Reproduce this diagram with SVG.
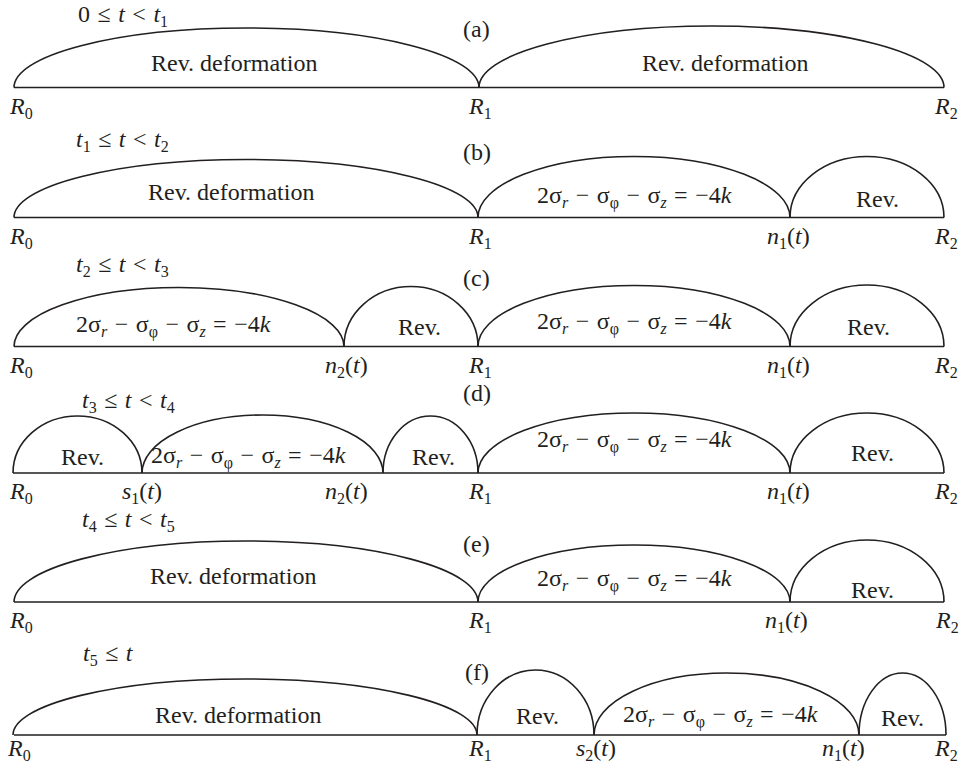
<svg xmlns="http://www.w3.org/2000/svg" width="965" height="769" viewBox="0 0 965 769">
<style>
.ln{fill:none;stroke:#231f20;stroke-width:1.6}
.t{font-family:"Liberation Serif","Times New Roman",serif;font-size:24px;fill:#231f20}
.i{font-style:italic}
.s{font-size:16px}
.tm{word-spacing:1.5px}
.f{word-spacing:1.5px}
</style>
<rect width="965" height="769" fill="#fff"/>
<g id="axes">
<path class="ln" d="M14 87.5H944M14 217.5H944M14 346.5H944M13 473H944M14 602H944M14 735H946"/>
</g>
<g id="row-a">
<text class="t tm" x="78" y="22">0 ≤ <tspan class="i">t</tspan> &lt; <tspan class="i">t</tspan><tspan class="s" dy="5">1</tspan></text>
<text class="t" x="463" y="37">(a)</text>
<g id="a-left"><path class="ln" d="M14 87.5A232.5 59.5 0 0 1 479 87.5"/><text class="t" x="151" y="71">Rev. deformation</text></g>
<g id="a-right"><path class="ln" d="M479 87.5A232.5 61.5 0 0 1 944 87.5"/><text class="t" x="642" y="71">Rev. deformation</text></g>
<text class="t" y="114"><tspan class="i" x="10">R</tspan><tspan class="s" dy="5">0</tspan><tspan class="i" x="469" dy="-5">R</tspan><tspan class="s" dy="5">1</tspan><tspan class="i" x="935" dy="-5">R</tspan><tspan class="s" dy="5">2</tspan></text>
</g>
<g id="row-b">
<text class="t tm" x="76" y="147"><tspan class="i">t</tspan><tspan class="s" dy="5">1</tspan><tspan dy="-5"> ≤ </tspan><tspan class="i">t</tspan> &lt; <tspan class="i">t</tspan><tspan class="s" dy="5">2</tspan></text>
<text class="t" x="463" y="160">(b)</text>
<g id="b-left"><path class="ln" d="M14 217.5A232 58 0 0 1 478 217.5"/><text class="t" x="148" y="200">Rev. deformation</text></g>
<g id="b-mid"><path class="ln" d="M478 217.5A156 61 0 0 1 790 217.5"/><text class="t f" x="537" y="203">2σ<tspan class="i s" dy="5">r</tspan><tspan dy="-5"> − σ</tspan><tspan class="s" dy="5">φ</tspan><tspan dy="-5"> − σ</tspan><tspan class="i s" dy="5">z</tspan><tspan dy="-5"> = −4</tspan><tspan class="i">k</tspan></text></g>
<g id="b-right"><path class="ln" d="M790 217.5A77 61 0 0 1 944 217.5"/><text class="t" x="856" y="207">Rev.</text></g>
<text class="t" y="244"><tspan class="i" x="10">R</tspan><tspan class="s" dy="5">0</tspan><tspan class="i" x="469" dy="-5">R</tspan><tspan class="s" dy="5">1</tspan><tspan class="i" x="767" dy="-5">n</tspan><tspan class="s" dy="5">1</tspan><tspan dy="-5">(</tspan><tspan class="i">t</tspan>)<tspan class="i" x="935">R</tspan><tspan class="s" dy="5">2</tspan></text>
</g>
<g id="row-c">
<text class="t tm" x="76" y="272"><tspan class="i">t</tspan><tspan class="s" dy="5">2</tspan><tspan dy="-5"> ≤ </tspan><tspan class="i">t</tspan> &lt; <tspan class="i">t</tspan><tspan class="s" dy="5">3</tspan></text>
<text class="t" x="463" y="286">(c)</text>
<g id="c-left"><path class="ln" d="M14 346.5A165 59 0 0 1 344 346.5"/><text class="t f" x="76" y="332">2σ<tspan class="i s" dy="5">r</tspan><tspan dy="-5"> − σ</tspan><tspan class="s" dy="5">φ</tspan><tspan dy="-5"> − σ</tspan><tspan class="i s" dy="5">z</tspan><tspan dy="-5"> = −4</tspan><tspan class="i">k</tspan></text></g>
<g id="c-rev1"><path class="ln" d="M344 346.5A67 60 0 0 1 478 346.5"/><text class="t" x="398" y="335">Rev.</text></g>
<g id="c-mid"><path class="ln" d="M478 346.5A156 61 0 0 1 790 346.5"/><text class="t f" x="537" y="329">2σ<tspan class="i s" dy="5">r</tspan><tspan dy="-5"> − σ</tspan><tspan class="s" dy="5">φ</tspan><tspan dy="-5"> − σ</tspan><tspan class="i s" dy="5">z</tspan><tspan dy="-5"> = −4</tspan><tspan class="i">k</tspan></text></g>
<g id="c-rev2"><path class="ln" d="M790 346.5A77 61.5 0 0 1 944 346.5"/><text class="t" x="847" y="335">Rev.</text></g>
<text class="t" y="373"><tspan class="i" x="10">R</tspan><tspan class="s" dy="5">0</tspan><tspan class="i" x="325" dy="-5">n</tspan><tspan class="s" dy="5">2</tspan><tspan dy="-5">(</tspan><tspan class="i">t</tspan>)<tspan class="i" x="469">R</tspan><tspan class="s" dy="5">1</tspan><tspan class="i" x="767" dy="-5">n</tspan><tspan class="s" dy="5">1</tspan><tspan dy="-5">(</tspan><tspan class="i">t</tspan>)<tspan class="i" x="935">R</tspan><tspan class="s" dy="5">2</tspan></text>
</g>
<g id="row-d">
<text class="t tm" x="82" y="408"><tspan class="i">t</tspan><tspan class="s" dy="5">3</tspan><tspan dy="-5"> ≤ </tspan><tspan class="i">t</tspan> &lt; <tspan class="i">t</tspan><tspan class="s" dy="5">4</tspan></text>
<text class="t" x="463" y="401">(d)</text>
<g id="d-rev1"><path class="ln" d="M13 473A64.5 57 0 0 1 142 473"/><text class="t" x="61" y="465">Rev.</text></g>
<g id="d-mid1"><path class="ln" d="M142 473A120.5 58 0 0 1 383 473"/><text class="t f" x="151" y="463">2σ<tspan class="i s" dy="5">r</tspan><tspan dy="-5"> − σ</tspan><tspan class="s" dy="5">φ</tspan><tspan dy="-5"> − σ</tspan><tspan class="i s" dy="5">z</tspan><tspan dy="-5"> = −4</tspan><tspan class="i">k</tspan></text></g>
<g id="d-rev2"><path class="ln" d="M383 473A47.5 57 0 0 1 478 473"/><text class="t" x="412" y="465">Rev.</text></g>
<g id="d-mid2"><path class="ln" d="M478 473A156 60 0 0 1 790 473"/><text class="t f" x="537" y="447">2σ<tspan class="i s" dy="5">r</tspan><tspan dy="-5"> − σ</tspan><tspan class="s" dy="5">φ</tspan><tspan dy="-5"> − σ</tspan><tspan class="i s" dy="5">z</tspan><tspan dy="-5"> = −4</tspan><tspan class="i">k</tspan></text></g>
<g id="d-rev3"><path class="ln" d="M790 473A77 60 0 0 1 944 473"/><text class="t" x="851" y="461">Rev.</text></g>
<text class="t" y="499"><tspan class="i" x="10">R</tspan><tspan class="s" dy="5">0</tspan><tspan class="i" x="122" dy="-5">s</tspan><tspan class="s" dy="5">1</tspan><tspan dy="-5">(</tspan><tspan class="i">t</tspan>)<tspan class="i" x="325">n</tspan><tspan class="s" dy="5">2</tspan><tspan dy="-5">(</tspan><tspan class="i">t</tspan>)<tspan class="i" x="469">R</tspan><tspan class="s" dy="5">1</tspan><tspan class="i" x="767" dy="-5">n</tspan><tspan class="s" dy="5">1</tspan><tspan dy="-5">(</tspan><tspan class="i">t</tspan>)<tspan class="i" x="935">R</tspan><tspan class="s" dy="5">2</tspan></text>
</g>
<g id="row-e">
<text class="t tm" x="82" y="527"><tspan class="i">t</tspan><tspan class="s" dy="5">4</tspan><tspan dy="-5"> ≤ </tspan><tspan class="i">t</tspan> &lt; <tspan class="i">t</tspan><tspan class="s" dy="5">5</tspan></text>
<text class="t" x="463" y="552">(e)</text>
<g id="e-left"><path class="ln" d="M14 602A232 61 0 0 1 478 602"/><text class="t" x="150" y="584">Rev. deformation</text></g>
<g id="e-mid"><path class="ln" d="M478 602A156 57 0 0 1 790 602"/><text class="t f" x="537" y="586">2σ<tspan class="i s" dy="5">r</tspan><tspan dy="-5"> − σ</tspan><tspan class="s" dy="5">φ</tspan><tspan dy="-5"> − σ</tspan><tspan class="i s" dy="5">z</tspan><tspan dy="-5"> = −4</tspan><tspan class="i">k</tspan></text></g>
<g id="e-right"><path class="ln" d="M790 602A77 62 0 0 1 944 602"/><text class="t" x="851" y="598">Rev.</text></g>
<text class="t" y="628"><tspan class="i" x="10">R</tspan><tspan class="s" dy="5">0</tspan><tspan class="i" x="469" dy="-5">R</tspan><tspan class="s" dy="5">1</tspan><tspan class="i" x="765" dy="-5">n</tspan><tspan class="s" dy="5">1</tspan><tspan dy="-5">(</tspan><tspan class="i">t</tspan>)<tspan class="i" x="936">R</tspan><tspan class="s" dy="5">2</tspan></text>
</g>
<g id="row-f">
<text class="t tm" x="83" y="661"><tspan class="i">t</tspan><tspan class="s" dy="5">5</tspan><tspan dy="-5"> ≤ </tspan><tspan class="i">t</tspan></text>
<text class="t" x="465" y="680">(f)</text>
<g id="f-left"><path class="ln" d="M13 735A232 56 0 0 1 477 735"/><text class="t" x="155" y="723">Rev. deformation</text></g>
<g id="f-rev1"><path class="ln" d="M477 735A58.5 65 0 0 1 594 735"/><text class="t" x="516" y="724">Rev.</text></g>
<g id="f-mid"><path class="ln" d="M594 735A132.5 62 0 0 1 859 735"/><text class="t f" x="623" y="722">2σ<tspan class="i s" dy="5">r</tspan><tspan dy="-5"> − σ</tspan><tspan class="s" dy="5">φ</tspan><tspan dy="-5"> − σ</tspan><tspan class="i s" dy="5">z</tspan><tspan dy="-5"> = −4</tspan><tspan class="i">k</tspan></text></g>
<g id="f-rev2"><path class="ln" d="M859 735A43.5 62 0 0 1 946 735"/><text class="t" x="881" y="726">Rev.</text></g>
<text class="t" y="756"><tspan class="i" x="8">R</tspan><tspan class="s" dy="5">0</tspan><tspan class="i" x="469" dy="-5">R</tspan><tspan class="s" dy="5">1</tspan><tspan class="i" x="576" dy="-5">s</tspan><tspan class="s" dy="5">2</tspan><tspan dy="-5">(</tspan><tspan class="i">t</tspan>)<tspan class="i" x="822">n</tspan><tspan class="s" dy="5">1</tspan><tspan dy="-5">(</tspan><tspan class="i">t</tspan>)<tspan class="i" x="935">R</tspan><tspan class="s" dy="5">2</tspan></text>
</g>
</svg>
